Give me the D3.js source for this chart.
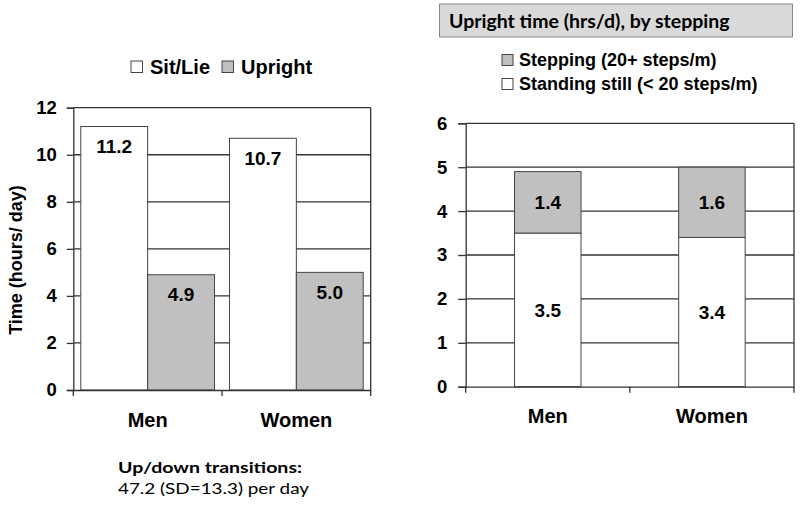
<!DOCTYPE html>
<html><head><meta charset="utf-8">
<script src="https://d3js.org/d3.v7.min.js"></script>
<style>body{margin:0;background:#fff}svg{display:block}</style>
</head><body>
<svg id="c" width="800" height="509"></svg>
<script>
const categories = ["Men", "Women"];
const sitLie = [11.2, 10.7];
const upright = [4.9, 5.0];
const standingStill = [3.5, 3.4];
const stepping = [1.4, 1.6];
const leftTicks = [0, 2, 4, 6, 8, 10, 12];
const rightTicks = [0, 1, 2, 3, 4, 5, 6];
const leftLegend = ["Sit/Lie", "Upright"];
const rightLegend = ["Stepping (20+ steps/m)", "Standing still (< 20 steps/m)"];

const svg = d3.select("#c");
const AR = "'Liberation Sans', Arial, sans-serif";
const CAL = "Lato, 'Open Sans', sans-serif";
const GRAY = "#c0c0c0", LINE = "#333", BAR = "#444";

// ---------- LEFT CHART ----------
const L = {x0: 73.3, x1: 370.7, y0: 390, y1: 107.7};
const xL = d3.scaleBand().domain(categories).range([L.x0, L.x1]).paddingInner(0).paddingOuter(0);
const yL = d3.scaleLinear().domain([0, 12]).range([L.y0, L.y1]);
const gL = svg.append("g");
gL.selectAll("line.grid").data(leftTicks.filter(d => d > 0)).join("line")
  .attr("x1", L.x0).attr("x2", L.x1).attr("y1", d => yL(d)).attr("y2", d => yL(d))
  .attr("stroke", LINE).attr("stroke-width", 1.3);
gL.append("line").attr("x1", L.x1).attr("x2", L.x1).attr("y1", L.y1).attr("y2", L.y0).attr("stroke", LINE).attr("stroke-width", 1.3);
const inner = 7.5, bw = (xL.bandwidth() - 2 * inner) / 2;
categories.forEach((c, i) => {
  const bx = xL(c) + inner;
  gL.append("rect").attr("x", bx).attr("y", yL(sitLie[i])).attr("width", bw).attr("height", yL(0) - yL(sitLie[i]))
    .attr("fill", "#fff").attr("stroke", BAR).attr("stroke-width", 1);
  gL.append("rect").attr("x", bx + bw).attr("y", yL(upright[i])).attr("width", bw).attr("height", yL(0) - yL(upright[i]))
    .attr("fill", GRAY).attr("stroke", BAR).attr("stroke-width", 1);
  gL.append("text").attr("x", bx + bw / 2).attr("y", yL(sitLie[i]) + 20).attr("dy", "0.35em")
    .attr("text-anchor", "middle").attr("font-family", AR).attr("font-weight", "bold").attr("font-size", 19)
    .text(sitLie[i].toFixed(1));
  gL.append("text").attr("x", bx + bw * 1.5).attr("y", yL(upright[i]) + 20).attr("dy", "0.35em")
    .attr("text-anchor", "middle").attr("font-family", AR).attr("font-weight", "bold").attr("font-size", 19)
    .text(upright[i].toFixed(1));
});
const axL = gL.append("g").attr("transform", `translate(${L.x0},0)`)
  .call(d3.axisLeft(yL).tickValues(leftTicks).tickSize(6.5).tickPadding(10).tickFormat(d3.format("d")));
axL.select(".domain").attr("stroke", LINE).attr("stroke-width", 1.3);
axL.selectAll(".tick line").attr("stroke", LINE).attr("stroke-width", 1.3);
axL.selectAll("text").attr("font-family", AR).attr("font-weight", "bold").attr("font-size", 18.5).attr("fill", "#000");
const axLx = gL.append("g").attr("transform", `translate(0,${L.y0})`)
  .call(d3.axisBottom(xL).tickSize(0).tickPadding(23));
axLx.select(".domain").attr("stroke", LINE).attr("stroke-width", 1.3);
axLx.selectAll("text").attr("font-family", AR).attr("font-weight", "bold").attr("font-size", 20).attr("fill", "#000");
[L.x0, L.x0 + xL.bandwidth(), L.x1].forEach(x => gL.append("line").attr("x1", x).attr("x2", x).attr("y1", L.y0).attr("y2", L.y0 + 6).attr("stroke", LINE).attr("stroke-width", 1.3));
gL.append("text").attr("transform", `translate(22,260) rotate(-90)`)
  .attr("text-anchor", "middle").attr("font-family", AR).attr("font-weight", "bold").attr("font-size", 18)
  .text("Time (hours/ day)");
const legL = [{t: leftLegend[0], f: "#fff", x: 131}, {t: leftLegend[1], f: GRAY, x: 222}];
legL.forEach(d => {
  gL.append("rect").attr("x", d.x).attr("y", 61).attr("width", 11.5).attr("height", 11.5).attr("fill", d.f).attr("stroke", BAR);
  gL.append("text").attr("x", d.x + 19).attr("y", 67).attr("dy", "0.35em").attr("font-family", AR).attr("font-weight", "bold").attr("font-size", 20).text(d.t);
});
svg.append("text").attr("x", 118).attr("y", 467.5).attr("dy", "0.35em").attr("font-family", CAL).attr("font-weight", "bold").attr("font-size", 16)
  .attr("textLength", 184).attr("lengthAdjust", "spacingAndGlyphs").text("Up/down transitions:");
svg.append("text").attr("x", 118).attr("y", 488).attr("dy", "0.35em").attr("font-family", CAL).attr("font-size", 16)
  .attr("textLength", 191).attr("lengthAdjust", "spacingAndGlyphs").text("47.2 (SD=13.3) per day");

// ---------- RIGHT CHART ----------
const R = {x0: 465.7, x1: 794, y0: 386.7, y1: 123.3};
const xR = d3.scaleBand().domain(categories).range([R.x0, R.x1]).paddingInner(0.595).paddingOuter(0.2975);
const yR = d3.scaleLinear().domain([0, 6]).range([R.y0, R.y1]);
const gR = svg.append("g");
gR.selectAll("line.grid").data(rightTicks.filter(d => d > 0)).join("line")
  .attr("x1", R.x0).attr("x2", R.x1).attr("y1", d => yR(d)).attr("y2", d => yR(d))
  .attr("stroke", LINE).attr("stroke-width", 1.3);
gR.append("line").attr("x1", R.x1).attr("x2", R.x1).attr("y1", R.y1).attr("y2", R.y0).attr("stroke", LINE).attr("stroke-width", 1.3);
categories.forEach((c, i) => {
  const bx = xR(c), w = xR.bandwidth();
  const top = standingStill[i] + stepping[i];
  gR.append("rect").attr("x", bx).attr("y", yR(standingStill[i])).attr("width", w).attr("height", yR(0) - yR(standingStill[i]))
    .attr("fill", "#fff").attr("stroke", BAR);
  gR.append("rect").attr("x", bx).attr("y", yR(top)).attr("width", w).attr("height", yR(standingStill[i]) - yR(top))
    .attr("fill", GRAY).attr("stroke", BAR);
  gR.append("text").attr("x", bx + w / 2).attr("y", yR(standingStill[i] / 2)).attr("dy", "0.35em")
    .attr("text-anchor", "middle").attr("font-family", AR).attr("font-weight", "bold").attr("font-size", 19).text(standingStill[i].toFixed(1));
  gR.append("text").attr("x", bx + w / 2).attr("y", yR(standingStill[i] + stepping[i] / 2)).attr("dy", "0.35em")
    .attr("text-anchor", "middle").attr("font-family", AR).attr("font-weight", "bold").attr("font-size", 19).text(stepping[i].toFixed(1));
});
const axR = gR.append("g").attr("transform", `translate(${R.x0},0)`)
  .call(d3.axisLeft(yR).tickValues(rightTicks).tickSize(7.5).tickPadding(11).tickFormat(d3.format("d")));
axR.select(".domain").attr("stroke", LINE).attr("stroke-width", 1.3);
axR.selectAll(".tick line").attr("stroke", LINE).attr("stroke-width", 1.3);
axR.selectAll("text").attr("font-family", AR).attr("font-weight", "bold").attr("font-size", 18.5).attr("fill", "#000");
const axRx = gR.append("g").attr("transform", `translate(0,${R.y0})`)
  .call(d3.axisBottom(xR).tickSize(0).tickPadding(22));
axRx.select(".domain").attr("stroke", LINE).attr("stroke-width", 1.3);
axRx.selectAll("text").attr("font-family", AR).attr("font-weight", "bold").attr("font-size", 20).attr("fill", "#000");
[R.x0, (R.x0 + R.x1) / 2, R.x1].forEach(x => gR.append("line").attr("x1", x).attr("x2", x).attr("y1", R.y0).attr("y2", R.y0 + 6).attr("stroke", LINE).attr("stroke-width", 1.3));
gR.append("rect").attr("x", 439.5).attr("y", 4).attr("width", 353).attr("height", 33).attr("fill", "#d9d9d9").attr("stroke", "#888");
gR.append("text").attr("x", 449).attr("y", 21).attr("dy", "0.35em").attr("font-family", CAL).attr("font-weight", "bold").attr("font-size", 19.5)
  .text("Upright time (hrs/d), by stepping");
const legR = [{t: rightLegend[0], f: GRAY, y: 60}, {t: rightLegend[1], f: "#fff", y: 84}];
legR.forEach(d => {
  gR.append("rect").attr("x", 502).attr("y", d.y - 5.5).attr("width", 11).attr("height", 11).attr("fill", d.f).attr("stroke", BAR);
  gR.append("text").attr("x", 519).attr("y", d.y).attr("dy", "0.35em").attr("font-family", AR).attr("font-weight", "bold").attr("font-size", 18).text(d.t);
});
</script>
</body></html>
